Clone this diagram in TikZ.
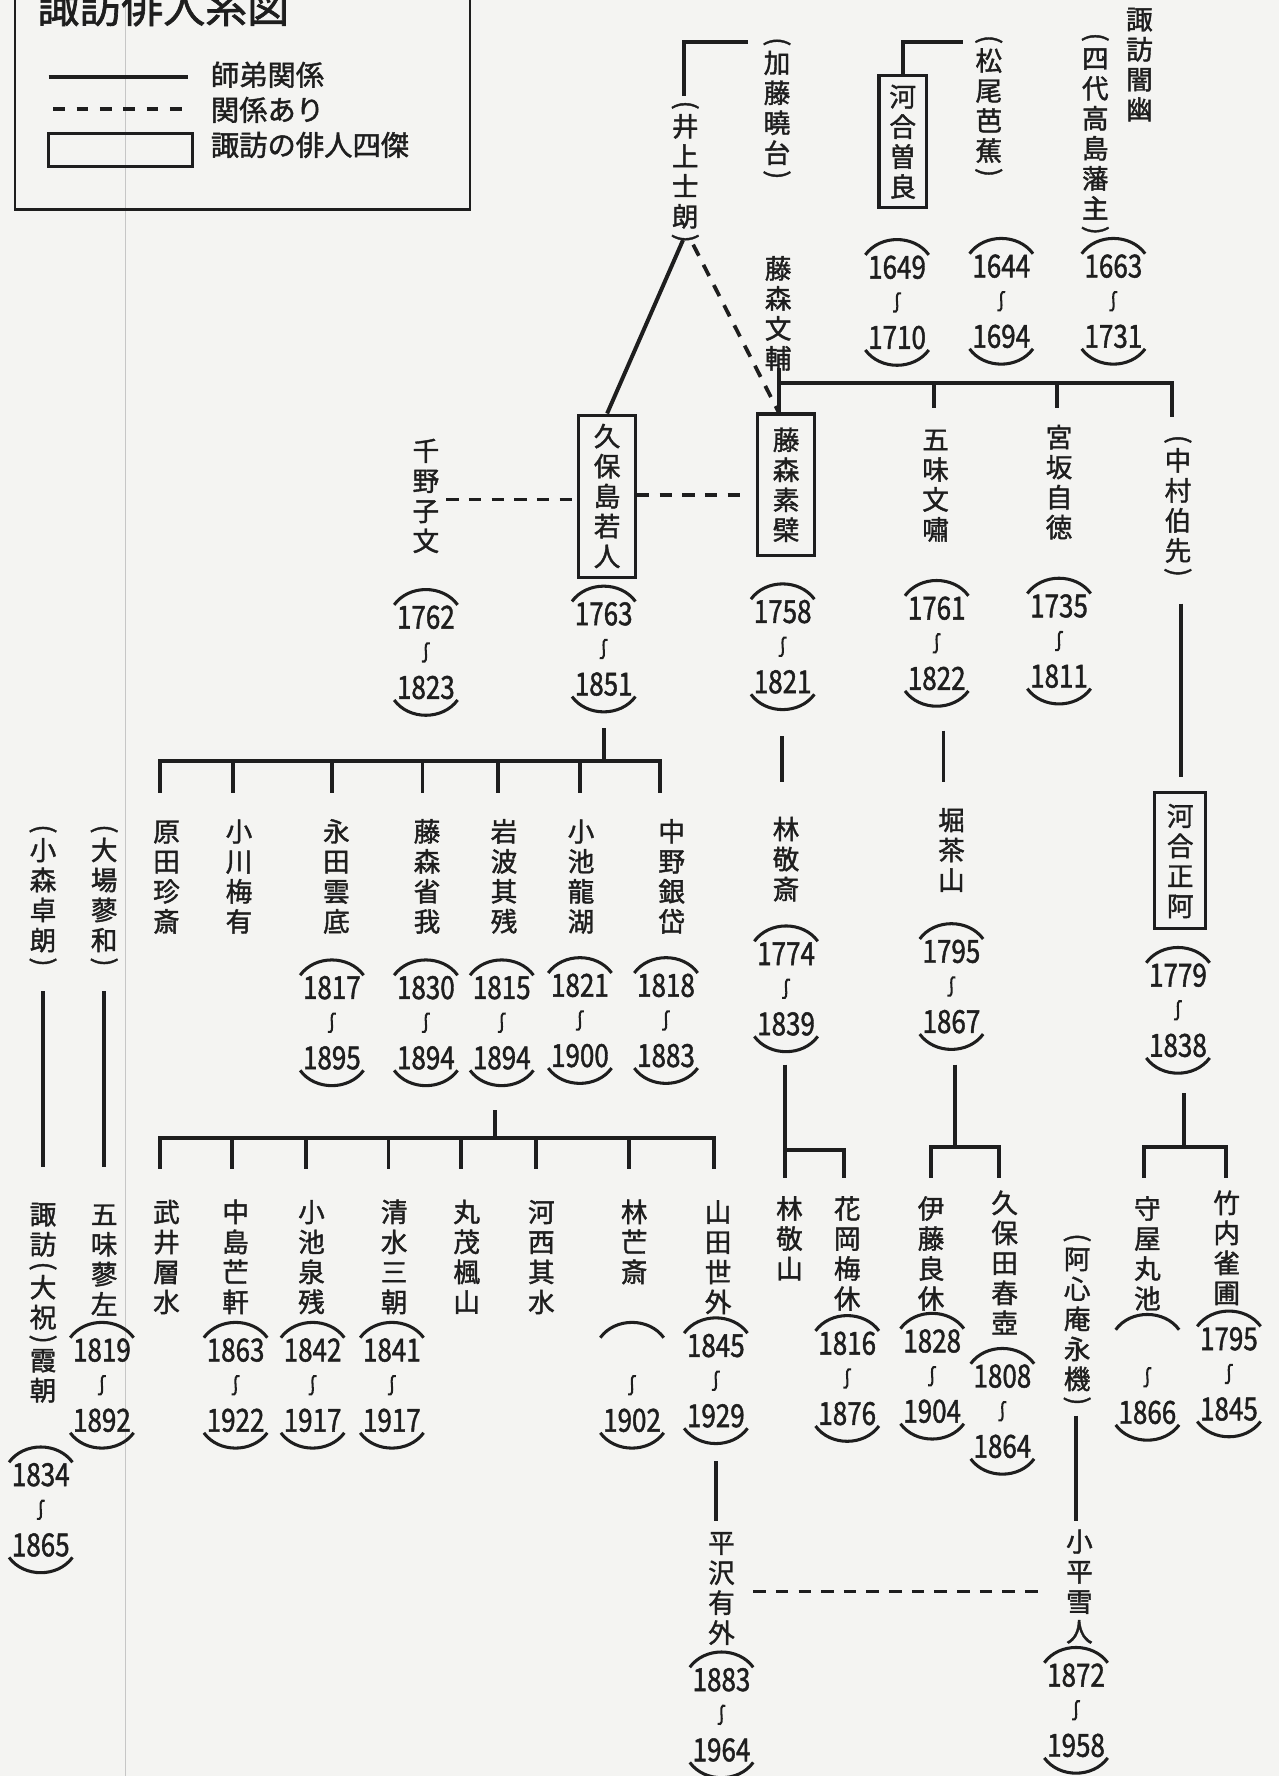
\documentclass[tikz,border=0pt]{standalone}
\usepackage{fontspec}
\usepackage{graphicx}
\newfontfamily\jp{Noto Sans CJK JP}
\newfontfamily\jpb[FakeBold=1.5]{Noto Sans CJK JP}
\definecolor{ink}{HTML}{1E1E1E}
\definecolor{paper}{HTML}{F4F4F2}
\newcommand\namefont{\jpb\fontsize{23.5}{26}\selectfont}
\newcommand\yrfont{\jpb\fontsize{28}{28}\selectfont}
\newdimen\vtgap \vtgap=3pt
\makeatletter
\newcommand\vtext[1]{\vbox{\offinterlineskip\let\vt@first\relax\@tfor\vt@c:=#1\do{\vt@item}}}
\def\vt@item{%
  \ifx\vt@first\relax\let\vt@first\@empty\else\vskip\vtgap\fi
  \expandafter\ifx\vt@c(\vt@paren{(}%
  \else\expandafter\ifx\vt@c)\vt@paren{)}%
  \else\hbox to 1em{\hss\vrule height .88em depth .12em width 0pt\vt@c\hss}\fi\fi}
\def\vt@paren#1{\hbox to 1em{\hss\raisebox{.33em}[.36em][0pt]{\rotatebox{-90}{#1}}\hss}}
\makeatother
\newcommand\lspan[5]{%
  \coordinate (#1) at (#2,#3);
  \draw[arcline] (#2-28,#3-11) .. controls (#2-15,#3-29) and (#2+15,#3-29) .. (#2+28,#3-11);
  \node[yr] (#1-b) at (#2,#3) {\scalebox{0.82}[1]{#4}};
  \draw[wave] (#2+3.5,#3+23) .. controls (#2-5,#3+20) and (#2+5,#3+42) .. (#2-3.5,#3+39);
  \node[yr] (#1-d) at (#2,#3+62) {\scalebox{0.82}[1]{#5}};
  \draw[arcline] (#2-28,#3+73) .. controls (#2-15,#3+91) and (#2+15,#3+91) .. (#2+28,#3+73);
}
\begin{document}
\begin{tikzpicture}[x=1pt,y=-1pt,
  every node/.style={text=ink},
  vname/.style={inner sep=0pt, anchor=north, font=\namefont},
  boxed/.style={draw=ink, line width=2.8pt, inner sep=0pt, font=\namefont, anchor=center},
  link/.style={draw=ink, line width=3.5pt},
  rel/.style={draw=ink, line width=3.3pt, dash pattern=on 11pt off 9pt},
  arcline/.style={draw=ink, line width=2.7pt},
  wave/.style={draw=ink, line width=1.8pt},
  yr/.style={inner sep=0pt, font=\yrfont},
  lgtext/.style={inner sep=0pt, anchor=west, font=\jpb\fontsize{25}{25}\selectfont}]
\clip (0,0) rectangle (1129,1568);
\fill[paper] (0,0) rectangle (1129,1568);
\draw[gray!45, line width=0.8pt] (111,0) -- (111,1568);

% ---- legend ----
\draw[draw=ink, line width=2pt] (13,-10) rectangle (415,185);
\node[inner sep=0pt, anchor=base west, font=\jpb\fontsize{37}{37}\selectfont] (title) at (33,20) {諏訪俳人系図};
\draw[link] (43,68) -- (166,68);
\draw[rel, dash pattern=on 10.3pt off 10.3pt] (47,96) -- (164,96);
\draw[draw=ink, line width=3pt] (43,118) rectangle (170,147);
\node[lgtext] (lg1) at (186,66) {師弟関係};
\node[lgtext] (lg2) at (186,97) {関係あり};
\node[lgtext] (lg3) at (186,128) {諏訪の俳人四傑};

% ---- top row ----
\node[vname] (kato) at (686,32) {\vtext{(加藤曉台)}};
\node[vname] (inoue) at (605,88) {\vtext{(井上士朗)}};
\node[boxed, minimum width=42pt, minimum height=116pt] (sora) at (797,125) {\vtext{河合曽良}};
\node[vname] (basho) at (873,30) {\vtext{(松尾芭蕉)}};
\node[vname] (takashima) at (967,28) {\vtext{(四代高島藩主)}};
\node[vname] (kanyu) at (1006,5) {\vtext{諏訪闇幽}};
\node[vname] (bunsuke) at (687,225) {\vtext{藤森文輔}};
\lspan{sora-l}{792}{236}{1649}{1710}
\lspan{basho-l}{884}{235}{1644}{1694}
\lspan{kanyu-l}{983}{235}{1663}{1731}

% ---- second row ----
\node[vname] (chino) at (376,386) {\vtext{千野子文}};
\node[boxed, minimum width=50pt, minimum height=143pt] (kubo) at (536,438) {\vtext{久保島若人}};
\node[boxed, minimum width=50pt, minimum height=125pt] (sobaku) at (694,428) {\vtext{藤森素檗}};
\node[vname] (bunsho) at (826,376) {\vtext{五味文嘯}};
\node[vname] (jitoku) at (935,374) {\vtext{宮坂自徳}};
\node[vname] (nakamura) at (1040,383) {\vtext{(中村伯先)}};
\node[boxed, minimum width=45pt, minimum height=120pt] (masaa) at (1042,760) {\vtext{河合正阿}};
\lspan{chino-l}{376}{545}{1762}{1823}
\lspan{kubo-l}{533}{542}{1763}{1851}
\lspan{sobaku-l}{691}{540}{1758}{1821}
\lspan{bunsho-l}{827}{537}{1761}{1822}
\lspan{jitoku-l}{935}{535}{1735}{1811}
\lspan{masaa-l}{1040}{861}{1779}{1838}

% ---- third row ----
\node[vname] (harada) at (147,722) {\vtext{原田珍斎}};
\node[vname] (ogawa) at (211,722) {\vtext{小川梅有}};
\node[vname] (nagata) at (297,722) {\vtext{永田雲底}};
\node[vname] (shoga) at (377,722) {\vtext{藤森省我}};
\node[vname] (iwanami) at (445,722) {\vtext{岩波其残}};
\node[vname] (ryuko) at (513,722) {\vtext{小池龍湖}};
\node[vname] (ginntai) at (593,722) {\vtext{中野銀岱}};
\node[vname] (keisai) at (694,720) {\vtext{林敬斎}};
\node[vname] (hori) at (840,712) {\vtext{堀茶山}};
\node[vname] (oba) at (92,727) {\vtext{(大場蓼和)}};
\node[vname] (komori) at (38,727) {\vtext{(小森卓朗)}};
\lspan{nagata-l}{293}{872}{1817}{1895}
\lspan{shoga-l}{376}{872}{1830}{1894}
\lspan{iwanami-l}{443}{872}{1815}{1894}
\lspan{ryuko-l}{512}{870}{1821}{1900}
\lspan{gintai-l}{588}{870}{1818}{1883}
\lspan{keisai-l}{694}{842}{1774}{1839}
\lspan{hori-l}{840}{840}{1795}{1867}

% ---- fourth row ----
\node[vname] (takei) at (147,1058) {\vtext{武井層水}};
\node[vname] (boken) at (208,1058) {\vtext{中島芒軒}};
\node[vname] (senzan) at (275,1058) {\vtext{小池泉残}};
\node[vname] (sancho) at (348,1058) {\vtext{清水三朝}};
\node[vname] (maromo) at (412,1058) {\vtext{丸茂楓山}};
\node[vname] (kasai) at (478,1058) {\vtext{河西其水}};
\node[vname] (bosai) at (560,1058) {\vtext{林芒斎}};
\node[vname] (segai) at (634,1058) {\vtext{山田世外}};
\node[vname] (keizan) at (697,1055) {\vtext{林敬山}};
\node[vname] (baikyu) at (748,1055) {\vtext{花岡梅休}};
\node[vname] (ryokyu) at (822,1055) {\vtext{伊藤良休}};
\node[vname] (shunko) at (887,1050) {\vtext{久保田春壺}};
\node[vname] (eiki) at (951,1088) {\vtext{(阿心庵永機)}};
\node[vname] (ganchi) at (1013,1055) {\vtext{守屋丸池}};
\node[vname] (jakuho) at (1083,1050) {\vtext{竹内雀圃}};
\node[vname] (ryosa) at (92,1060) {\vtext{五味蓼左}};
\node[vname] (kacho) at (38,1060) {\vtext{諏訪(大祝)霞朝}};
\lspan{boken-l}{208}{1192}{1863}{1922}
\lspan{senzan-l}{276}{1192}{1842}{1917}
\lspan{sancho-l}{346}{1192}{1841}{1917}
\lspan{bosai-l}{558}{1192}{}{1902}
\lspan{segai-l}{632}{1188}{1845}{1929}
\lspan{baikyu-l}{748}{1186}{1816}{1876}
\lspan{ryokyu-l}{823}{1184}{1828}{1904}
\lspan{shunko-l}{885}{1215}{1808}{1864}
\lspan{ganchi-l}{1013}{1185}{}{1866}
\lspan{jakuho-l}{1085}{1182}{1795}{1845}
\lspan{ryosa-l}{90}{1192}{1819}{1892}
\lspan{kacho-l}{36}{1302}{1834}{1865}

% ---- fifth row ----
\node[vname] (yugai) at (637,1350) {\vtext{平沢有外}};
\node[vname] (setsujin) at (953,1349) {\vtext{小平雪人}};
\lspan{yugai-l}{637}{1483}{1883}{1964}
\lspan{setsujin-l}{950}{1479}{1872}{1958}

% ---- connectors ----
\coordinate (kato-w) at (660,37);
\coordinate (inoue-t) at (604,85);
\draw[link] (kato-w) -| (inoue-t);
\coordinate (basho-w) at (850,37);
\draw[link] (basho-w) -| (sora.north);
\coordinate (inoue-b1) at (603,212);
\coordinate (inoue-b2) at (612,216);
\coordinate (sobaku-t) at (688,365);
\draw[link] (inoue-b1) -- (kubo.north);
\draw[rel] (inoue-b2) -- (sobaku-t);
\coordinate (bunsuke-b) at (688,325);
\draw[link] (bunsuke-b) -- (sobaku-t);
\coordinate (bar1-l) at (688,338);
\coordinate (bar1-r) at (1035,368);
\draw[link] (bar1-l) -| (bar1-r);
\draw[link] (825,338) -- (825,360);
\draw[link] (933,338) -- (933,360);
\coordinate (chino-e) at (394,441);
\draw[rel] (chino-e) -- (kubo.west |- chino-e);
\coordinate (sobaku-w) at (659,437);
\draw[rel] (kubo.east |- sobaku-w) -- (sobaku-w);
\coordinate (nakamura-b) at (1043,533);
\coordinate (masaa-t) at (1043,686);
\draw[link] (nakamura-b) -- (masaa-t);
% kubo children
\coordinate (kubo-s) at (533,643);
\coordinate (kubo-j) at (533,672);
\draw[link] (kubo-s) -- (kubo-j);
\draw[link] (141,700) |- (583,672) -- (583,700);
\foreach \xx in {206,293,373,440,512} \draw[link] (\xx,672) -- (\xx,700);
\coordinate (sobaku-s) at (690,650);
\coordinate (keisai-t) at (690,690);
\draw[link] (sobaku-s) -- (keisai-t);
\coordinate (bunsho-s) at (833,645);
\coordinate (hori-t) at (833,690);
\draw[link] (bunsho-s) -- (hori-t);
% iwanami children
\coordinate (iwanami-s) at (437,980);
\coordinate (iwanami-j) at (437,1005);
\draw[link] (iwanami-s) -- (iwanami-j);
\draw[link] (141,1032) |- (630,1005) -- (630,1032);
\foreach \xx in {205,270,343,407,473,555} \draw[link] (\xx,1005) -- (\xx,1032);
% keisai children
\coordinate (keisai-s) at (693,940);
\coordinate (keizan-t) at (693,1040);
\draw[link] (keisai-s) -- (keizan-t);
\coordinate (baikyu-t) at (745,1040);
\draw[link] (693,1015) -| (baikyu-t);
% hori children
\coordinate (hori-s) at (843,940);
\draw[link] (hori-s) -- (843,1013);
\draw[link] (822,1040) |- (882,1013) -- (882,1040);
% masaa children
\coordinate (masaa-s) at (1045,965);
\draw[link] (masaa-s) -- (1045,1013);
\draw[link] (1010,1040) |- (1082,1013) -- (1082,1040);
% lower links
\coordinate (segai-s) at (632,1290);
\coordinate (yugai-t) at (632,1343);
\draw[link] (segai-s) -- (yugai-t);
\coordinate (eiki-s) at (950,1250);
\coordinate (setsujin-t) at (950,1343);
\draw[link] (eiki-s) -- (setsujin-t);
\coordinate (yugai-e) at (665,1405);
\coordinate (setsujin-w) at (920,1405);
\draw[rel] (yugai-e) -- (setsujin-w);
\coordinate (oba-s) at (92,875);
\coordinate (ryosa-t) at (92,1030);
\draw[link] (oba-s) -- (ryosa-t);
\coordinate (komori-s) at (38,875);
\coordinate (kacho-t) at (38,1030);
\draw[link] (komori-s) -- (kacho-t);
\end{tikzpicture}
\end{document}
